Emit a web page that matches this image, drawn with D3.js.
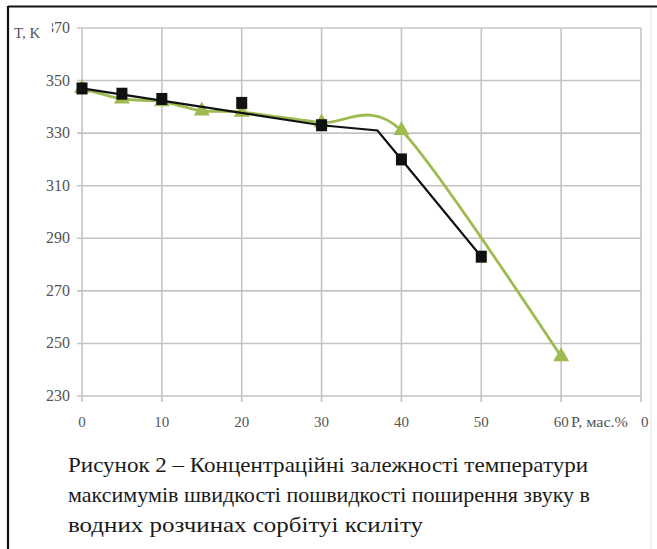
<!DOCTYPE html>
<html>
<head>
<meta charset="utf-8">
<script src="https://cdn.jsdelivr.net/npm/d3@7"></script>
<style>
  html, body { margin: 0; padding: 0; background: #fff; }
  svg { display: block; }
</style>
</head>
<body>
<svg id="chart" width="657" height="549"></svg>
<script>
// Concentration, mass %
const xTicks = [0, 10, 20, 30, 40, 50, 60, 70];
const yTicks = [230, 250, 270, 290, 310, 330, 350, 370];

// Measured temperature maxima (squares)
const sqP = [0, 5, 10, 20, 30, 40, 50];
const sqT = [347, 345, 343, 341.5, 333, 320, 283];

// Trend line through the square series
const sqLineP = [0, 30, 37, 40, 50];
const sqLineT = [347, 333, 331, 320, 283];

// Second series (triangles) and its smoothed curve
const triP = [0, 5, 10, 15, 20, 30, 40, 60];
const triT = [347, 343, 342, 338.5, 338, 334, 331, 245];

const captionLines = [
  "Рисунок 2 – Концентраційні залежності температури",
  "максимумів швидкості пошвидкості поширення звуку в",
  "водних розчинах сорбітуі ксиліту"
];

const svg = d3.select("#chart");
const W = 657, H = 549;

const x = d3.scaleLinear().domain([0, 70]).range([82, 641]);
const y = d3.scaleLinear().domain([230, 370]).range([396, 28]);

// frame
svg.append("rect").attr("width", W).attr("height", H).attr("fill", "#fff");
svg.append("line").attr("x1", 8).attr("x2", W).attr("y1", 6.5).attr("y2", 6.5)
  .attr("stroke", "#111").attr("stroke-width", 2);
svg.append("line").attr("x1", 8).attr("x2", 8).attr("y1", 6).attr("y2", H)
  .attr("stroke", "#111").attr("stroke-width", 2.2);
svg.append("line").attr("x1", 651).attr("x2", 651).attr("y1", 8).attr("y2", H)
  .attr("stroke", "#e4e4e4").attr("stroke-width", 1);

// grid
const grid = svg.append("g").attr("stroke", "#c4c4c4").attr("stroke-width", 1.6);
grid.selectAll("line.h").data(yTicks).join("line")
  .attr("x1", x(0) - 5).attr("x2", x(70))
  .attr("y1", d => y(d)).attr("y2", d => y(d));
grid.selectAll("line.v").data(xTicks).join("line")
  .attr("x1", d => x(d)).attr("x2", d => x(d))
  .attr("y1", y(370)).attr("y2", y(230) + 6);

// tick labels
const serif = "'Liberation Serif', 'DejaVu Serif', serif";
svg.append("g").selectAll("text").data(yTicks).join("text")
  .attr("x", 70).attr("y", d => y(d) + 5)
  .attr("text-anchor", "end")
  .attr("font-family", serif).attr("font-size", 16)
  .attr("fill", "#555")
  .text(d => d);
svg.append("g").selectAll("text").data(xTicks).join("text")
  .attr("x", d => x(d)).attr("y", 427)
  .attr("text-anchor", "middle")
  .attr("font-family", serif).attr("font-size", 15)
  .attr("fill", "#555")
  .text(d => d);

// axis titles, painted over the leading digit of the outermost tick labels
svg.append("rect").attr("x", 12).attr("y", 18).attr("width", 40).attr("height", 20).attr("fill", "#fff");
svg.append("text").attr("x", 14).attr("y", 38)
  .attr("font-family", serif).attr("font-size", 15).attr("fill", "#555")
  .text("T, K");
svg.append("rect").attr("x", 569).attr("y", 410).attr("width", 72).attr("height", 22).attr("fill", "#fff");
svg.append("text").attr("x", 571).attr("y", 427)
  .attr("font-family", serif).attr("font-size", 15).attr("fill", "#555")
  .attr("textLength", 57).attr("lengthAdjust", "spacingAndGlyphs")
  .text("P, мас.%");

// series
const green = "#9dbb4f";
const smooth = d3.line().x(d => x(d[0])).y(d => y(d[1])).curve(d3.curveCardinal.tension(0.2));
svg.append("path")
  .attr("d", smooth(d3.zip(triP, triT)))
  .attr("fill", "none").attr("stroke", green).attr("stroke-width", 2.8);

const sym = d3.symbol().type(d3.symbolTriangle).size(110);
svg.append("g").selectAll("path").data(d3.zip(triP, triT)).join("path")
  .attr("transform", d => `translate(${x(d[0])},${y(d[1])})`)
  .attr("d", sym).attr("fill", green);

const straight = d3.line().x(d => x(d[0])).y(d => y(d[1]));
svg.append("path")
  .attr("d", straight(d3.zip(sqLineP, sqLineT)))
  .attr("fill", "none").attr("stroke", "#111").attr("stroke-width", 2.2);

svg.append("g").selectAll("rect").data(d3.zip(sqP, sqT)).join("rect")
  .attr("x", d => x(d[0]) - 5.5).attr("y", d => y(d[1]) - 6)
  .attr("width", 11).attr("height", 12).attr("fill", "#111");

// caption
svg.append("g").selectAll("text").data(captionLines).join("text")
  .attr("x", 68).attr("y", (d, i) => 472 + i * 30)
  .attr("font-family", serif).attr("font-size", 21)
  .attr("fill", "#1a1a1a")
  .attr("textLength", (d, i) => [520, 522, 355][i])
  .attr("lengthAdjust", "spacingAndGlyphs")
  .text(d => d);
</script>
</body>
</html>
